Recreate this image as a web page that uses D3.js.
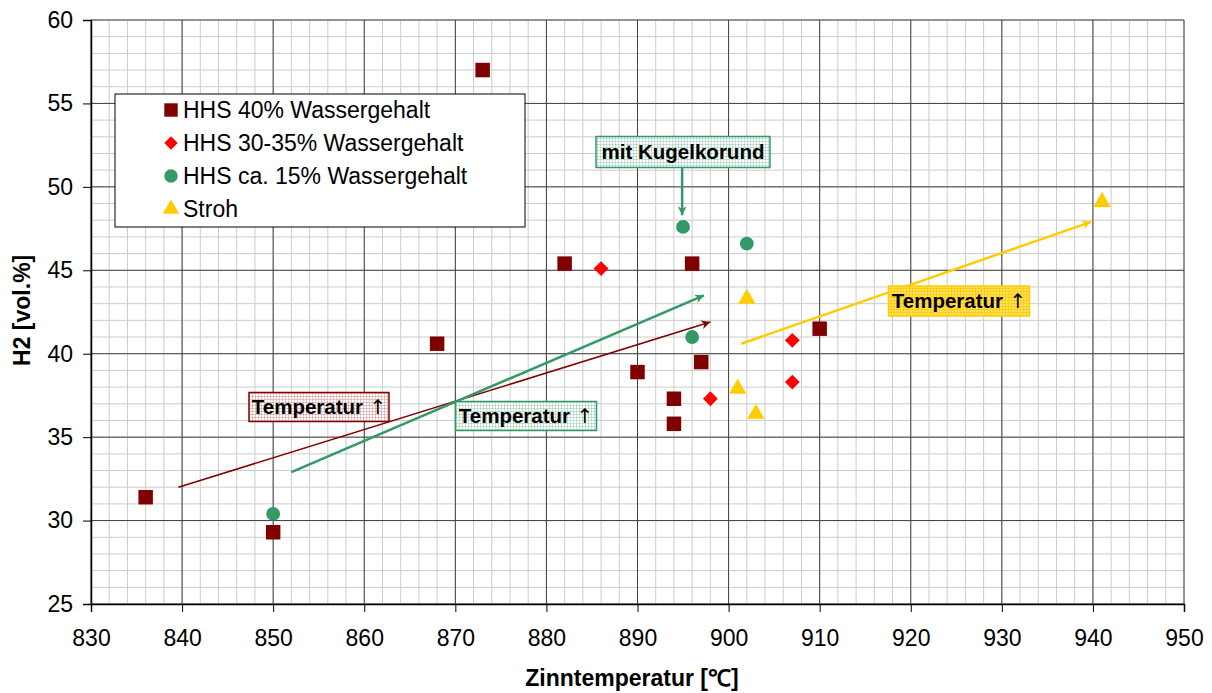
<!DOCTYPE html>
<html>
<head>
<meta charset="utf-8">
<script src="https://cdn.jsdelivr.net/npm/d3@7"></script>
<style>
  body { margin: 0; background: #fff; }
  svg { font-family: "Liberation Sans", Arial, sans-serif; }
</style>
</head>
<body>
<div id="chart"></div>
<script>
// series data [Zinntemperatur, H2]
const hhs40 = [[836, 31.4], [850, 29.3], [868, 40.6], [873, 57.0], [882, 45.4], [890, 38.9],
               [894, 37.3], [894, 35.8], [896, 45.4], [897, 39.5], [910, 41.5]];
const hhs30 = [[886, 45.1], [898, 37.3], [907, 40.8], [907, 38.3]];
const hhs15 = [[850, 30.4], [895, 47.6], [896, 41.0], [902, 46.6]];
const stroh = [[901, 37.9], [902, 43.3], [903, 36.4], [941, 49.1]];

const seriesNames = ["HHS 40% Wassergehalt", "HHS 30-35% Wassergehalt", "HHS ca. 15% Wassergehalt", "Stroh"];
const xTicks = [830, 840, 850, 860, 870, 880, 890, 900, 910, 920, 930, 940, 950];
const yTicks = [25, 30, 35, 40, 45, 50, 55, 60];

// trend arrows [x1, y1, x2, y2]
const arrowRed = [839.6, 32.0, 898.0, 41.9];
const arrowGreen = [852.0, 32.9, 897.3, 43.5];
const arrowYellow = [901.4, 40.6, 939.8, 47.9];
const arrowKugel = [894.9, 51.4, 894.9, 48.3];

const width = 1212, height = 693;
const margin = { top: 20, right: 28, bottom: 89, left: 91 };

const svg = d3.select("#chart").append("svg")
    .attr("width", width)
    .attr("height", height);

const x = d3.scaleLinear().domain([830, 950]).range([margin.left, width - margin.right]);
const y = d3.scaleLinear().domain([25, 60]).range([height - margin.bottom, margin.top]);

const defs = svg.append("defs");

function hatch(id, bg, color, op) {
    const p = defs.append("pattern")
        .attr("id", id)
        .attr("width", 3).attr("height", 3)
        .attr("patternUnits", "userSpaceOnUse");
    p.append("rect").attr("width", 3).attr("height", 3).attr("fill", bg);
    p.append("rect").attr("width", 3).attr("height", 1).attr("fill", color).attr("opacity", op);
    p.append("rect").attr("width", 1).attr("height", 3).attr("fill", color).attr("opacity", op);
}
hatch("hRed", "#fff", "#c06060", 0.35);
hatch("hGreen", "#fff", "#339966", 0.25);
hatch("hYellow", "#FFE066", "#FFCC00", 0.8);

function marker(id, color) {
    defs.append("marker")
        .attr("id", id)
        .attr("viewBox", "0 0 10 10")
        .attr("refX", 10).attr("refY", 5)
        .attr("markerWidth", 10).attr("markerHeight", 9)
        .attr("markerUnits", "userSpaceOnUse")
        .attr("orient", "auto")
        .append("path")
        .attr("d", "M0,0 L10,5 L0,10 L3,5 Z")
        .attr("fill", color);
}
marker("aRed", "#800000");
marker("aGreen", "#339966");
marker("aYellow", "#FFCC00");

// grid
const minorX = d3.range(830, 951, 2);
const minorY = d3.range(25, 61, 1);
const grid = svg.append("g");
grid.selectAll(".mx").data(minorX).enter().append("line")
    .attr("x1", d => x(d)).attr("x2", d => x(d))
    .attr("y1", y(25)).attr("y2", y(60))
    .attr("stroke", "#cccccc").attr("stroke-width", 1);
grid.selectAll(".my").data(minorY).enter().append("line")
    .attr("x1", x(830)).attr("x2", x(950))
    .attr("y1", d => y(d)).attr("y2", d => y(d))
    .attr("stroke", "#cccccc").attr("stroke-width", 1);
grid.selectAll(".Mx").data(xTicks).enter().append("line")
    .attr("x1", d => x(d)).attr("x2", d => x(d))
    .attr("y1", y(25)).attr("y2", y(60))
    .attr("stroke", "#404040").attr("stroke-width", 1);
grid.selectAll(".My").data(yTicks).enter().append("line")
    .attr("x1", x(830)).attr("x2", x(950))
    .attr("y1", d => y(d)).attr("y2", d => y(d))
    .attr("stroke", "#404040").attr("stroke-width", 1);

// axes
const xAxis = svg.append("g")
    .attr("transform", `translate(0,${y(25)})`)
    .call(d3.axisBottom(x).tickValues(xTicks).tickSize(8).tickPadding(18));
const yAxis = svg.append("g")
    .attr("transform", `translate(${x(830)},0)`)
    .call(d3.axisLeft(y).tickValues(yTicks).tickSize(8).tickPadding(10));
[xAxis, yAxis].forEach(a => {
    a.select(".domain").attr("stroke", "#000").attr("stroke-width", 1.5);
    a.selectAll(".tick line").attr("stroke", "#000");
    a.selectAll("text").attr("font-size", 23).attr("fill", "#000")
        .attr("font-family", "Liberation Sans, Arial, sans-serif");
});

// axis titles
svg.append("text")
    .attr("x", 632).attr("y", 686)
    .attr("text-anchor", "middle")
    .attr("font-weight", "bold").attr("font-size", 23)
    .text("Zinntemperatur [\u2103]");
svg.append("text")
    .attr("transform", `translate(30,${y(42.6)}) rotate(-90)`)
    .attr("text-anchor", "middle")
    .attr("font-weight", "bold").attr("font-size", 23)
    .text("H2 [vol.%]");

// arrows
function arrow(a, color, mk, w) {
    svg.append("line")
        .attr("x1", x(a[0])).attr("y1", y(a[1]))
        .attr("x2", x(a[2])).attr("y2", y(a[3]))
        .attr("stroke", color).attr("stroke-width", w)
        .attr("marker-end", `url(#${mk})`);
}
arrow(arrowRed, "#800000", "aRed", 1.5);
arrow(arrowGreen, "#339966", "aGreen", 2.5);
arrow(arrowYellow, "#FFCC00", "aYellow", 2.5);
arrow(arrowKugel, "#339966", "aGreen", 2.5);

// annotation boxes
function label(cx, cy, w, h, txt, up, fill, stroke) {
    svg.append("rect")
        .attr("x", cx - w / 2).attr("y", cy - h / 2)
        .attr("width", w).attr("height", h)
        .attr("fill", fill).attr("stroke", stroke).attr("stroke-width", 1.5);
    const t = svg.append("text")
        .attr("x", cx).attr("y", cy + 7)
        .attr("text-anchor", "middle")
        .attr("font-weight", "bold").attr("font-size", 20.5)
        .text(txt);
    if (up) {
        t.append("tspan")
            .attr("font-family", "DejaVu Sans")
            .attr("font-weight", "normal")
            .attr("font-size", 20)
            .text(" \u2191");
    }
}
label(319, 407, 140, 29, "Temperatur", true, "url(#hRed)", "#800000");
label(526, 416, 141, 29, "Temperatur", true, "url(#hGreen)", "#339966");
label(683, 152, 174, 31, "mit Kugelkorund", false, "url(#hGreen)", "#339966");
label(959, 301, 141, 30, "Temperatur", true, "url(#hYellow)", "#FFCC00");

// points
const symSquare = d3.symbol().type(d3.symbolSquare).size(210);
const symDiamond = d3.symbol().type(d3.symbolSquare).size(110);
const symCircle = d3.symbol().type(d3.symbolCircle).size(150);
const symTriangle = d3.symbol().type(d3.symbolTriangle).size(130);

const series = [
    { data: hhs40, sym: symSquare, color: "#800000", rot: 0 },
    { data: hhs30, sym: symDiamond, color: "#FF0000", rot: 45 },
    { data: hhs15, sym: symCircle, color: "#339966", rot: 0 },
    { data: stroh, sym: symTriangle, color: "#FFCC00", rot: 0 }
];
series.forEach(s => {
    svg.append("g").selectAll("path").data(s.data).enter().append("path")
        .attr("d", s.sym)
        .attr("transform", d => `translate(${x(d[0])},${y(d[1])}) rotate(${s.rot})`)
        .attr("fill", s.color);
});

// legend
const legend = svg.append("g").attr("transform", "translate(115,94)");
legend.append("rect")
    .attr("width", 410).attr("height", 133)
    .attr("fill", "#fff").attr("stroke", "#000").attr("stroke-width", 1);
const legSyms = [
    d3.symbol().type(d3.symbolSquare).size(180),
    d3.symbol().type(d3.symbolSquare).size(90),
    d3.symbol().type(d3.symbolCircle).size(140),
    d3.symbol().type(d3.symbolTriangle).size(120)
];
seriesNames.forEach((n, i) => {
    const cy = 16 + i * 33;
    legend.append("path")
        .attr("d", legSyms[i])
        .attr("transform", `translate(56,${cy}) rotate(${series[i].rot})`)
        .attr("fill", series[i].color);
    legend.append("text")
        .attr("x", 68).attr("y", cy + 8)
        .attr("font-size", 23)
        .text(n);
});
</script>
</body>
</html>
